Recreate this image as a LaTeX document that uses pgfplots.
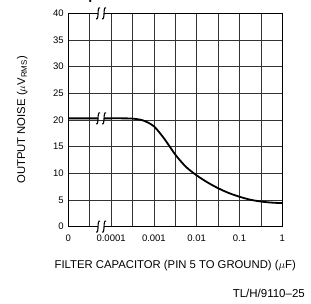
\documentclass[border=0pt]{standalone}
\usepackage{pgfplots}
\pgfplotsset{compat=1.18}
\usepackage{fontspec}
\setmainfont{Liberation Sans}
\usetikzlibrary{calc}
\begin{document}
\begin{tikzpicture}
\begin{axis}[
  scale only axis, width=214pt, height=213.3pt,
  xmin=0, xmax=10, ymin=0, ymax=40,
  xtick={0,2,4,6,8,10},
  xticklabels={0,0.0001,0.001,0.01,0.1,1},
  minor xtick={1,3,5,7,9},
  ytick={0,5,...,40},
  grid=both,
  major grid style={black!80, line width=0.5pt},
  minor grid style={black!80, line width=0.5pt},
  major tick length=0pt, minor tick length=0pt,
  axis line style={line width=1.4pt},
  /pgf/number format/assume math mode=true,
  tick label style={font=\fontsize{9.5}{11}\selectfont},
  xticklabel style={yshift=-5pt},
  yticklabel style={xshift=-1pt},
  xlabel={FILTER CAPACITOR (PIN 5 TO GROUND) ($\mu$F)},
  ylabel={OUTPUT NOISE ($\mu$V$_{\mathrm{RMS}}$)},
  label style={font=\fontsize{11.3}{13}\selectfont},
  xlabel style={at={(axis description cs:0.5,-0.185)}, anchor=center},
  ylabel style={at={(axis description cs:-0.215,0.5)}, anchor=center, rotate=0},
  clip=false,
]
\addplot[black, line width=1.8pt, smooth] coordinates {
  (0,20.3) (1,20.3) (2,20.3) (2.5,20.3) (3.0,20.25) (3.5,19.9) (4.0,18.8)
  (4.5,16.4) (5.0,13.5) (5.5,11.2) (6.0,9.6) (6.5,8.3) (7.0,7.2) (7.5,6.3)
  (8.0,5.6) (8.5,5.05) (9.0,4.7) (9.5,4.5) (10,4.4)
};
\coordinate (O) at (rel axis cs:0,0);
\coordinate (B1) at (axis cs:1.53,40);
\coordinate (B2) at (axis cs:1.53,20.3);
\coordinate (B3) at (axis cs:1.53,0);
\end{axis}
\foreach \b in {B1, B2, B3}{
  \begin{scope}[shift={(\b)}]
    \fill[white] (-3.2pt,-1.3pt) rectangle (3.2pt,1.3pt);
    \draw[line width=1.1pt] (-5pt,-5.5pt) .. controls (-1.5pt,-7pt) and (-4.5pt,7pt) .. (-1pt,5.5pt);
    \draw[line width=1.1pt] (1pt,-5.5pt) .. controls (4.5pt,-7pt) and (1.5pt,7pt) .. (5pt,5.5pt);
  \end{scope}
}
\node[anchor=base west, font=\fontsize{14}{16}\selectfont\bfseries, inner sep=0pt] at ($(O)+(2pt,227.5pt)$) {Capacitor};
\node[anchor=base east, font=\fontsize{11.5}{13}\selectfont, inner sep=0pt] at ($(O)+(236.7pt,-70.4pt)$) {TL/H/9110--25};
\pgfresetboundingbox
\path[use as bounding box] ($(O)+(-68.3pt,-76.4pt)$) rectangle ($(O)+(242.7pt,226.6pt)$);
\end{tikzpicture}
\end{document}
